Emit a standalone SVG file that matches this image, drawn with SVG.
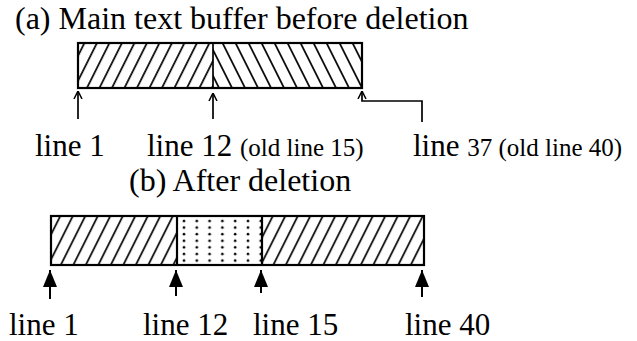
<svg xmlns="http://www.w3.org/2000/svg" width="637" height="341" viewBox="0 0 637 341">
<style>
.t{font-family:"Liberation Serif","Times New Roman",serif;fill:#000}
.big{font-size:31px}
.ttl{font-size:32px}
.sm{font-size:25px}
.box{fill:none;stroke:#000;stroke-width:2.2}
.ln{stroke:#000;stroke-width:2;fill:none}
.thin{stroke:#000;stroke-width:1.7;fill:none}
</style>
<defs>
<pattern id="hf" patternUnits="userSpaceOnUse" width="12.5" height="20" patternTransform="skewX(-26.6)">
<line x1="6" y1="-2" x2="6" y2="22" stroke="#000" stroke-width="1.9"/>
</pattern>
<pattern id="hb" patternUnits="userSpaceOnUse" width="13" height="20" patternTransform="skewX(26.6)">
<line x1="6" y1="-2" x2="6" y2="22" stroke="#000" stroke-width="1.9"/>
</pattern>
<pattern id="dots" patternUnits="userSpaceOnUse" x="178" y="218" width="12.8" height="6.6">
<circle cx="6" cy="3" r="1.3" fill="#000"/>
</pattern>
<marker id="open" viewBox="0 0 8 10" refX="8" refY="5" markerWidth="8" markerHeight="10" markerUnits="userSpaceOnUse" orient="auto">
<path d="M0,1 L8,5 L0,9" fill="none" stroke="#000" stroke-width="1.5"/>
</marker>
<marker id="fill" viewBox="0 0 17 14" refX="17" refY="7" markerWidth="17" markerHeight="14" markerUnits="userSpaceOnUse" orient="auto">
<path d="M0,0 L17,7 L0,14 Z" fill="#000"/>
</marker>
</defs>

<g id="title-a"><text class="t ttl" x="15" y="29">(a) Main text buffer before deletion</text></g>

<g id="buffer-before">
<rect x="78" y="43" width="135" height="45" fill="url(#hf)"/>
<rect x="213" y="43" width="149" height="45" fill="url(#hb)"/>
<rect class="box" x="78" y="43" width="284" height="45"/>
<line class="thin" x1="213" y1="43" x2="213" y2="88"/>
</g>

<g id="title-b"><text class="t ttl" x="129" y="191">(b) After deletion</text></g>

<g id="buffer-after">
<rect x="51" y="216" width="126" height="49" fill="url(#hf)"/>
<rect x="177" y="216" width="85" height="49" fill="url(#dots)"/>
<rect x="262" y="216" width="162" height="49" fill="url(#hf)"/>
<rect class="box" x="51" y="216" width="373" height="49"/>
<line class="box" x1="177" y1="216" x2="177" y2="265"/>
<line class="box" x1="262" y1="216" x2="262" y2="265"/>
</g>

<g id="connectors">
<line class="thin" x1="78" y1="119" x2="78" y2="91" marker-end="url(#open)"/>
<line class="thin" x1="213" y1="119" x2="213" y2="93" marker-end="url(#open)"/>
<path class="thin" d="M422,122 L422,101 L362,101 L362,91" marker-end="url(#open)"/>
<line class="ln" x1="50" y1="299" x2="50" y2="270" marker-end="url(#fill)"/>
<line class="ln" x1="176" y1="296" x2="176" y2="270" marker-end="url(#fill)"/>
<line class="ln" x1="261" y1="293" x2="261" y2="270" marker-end="url(#fill)"/>
<line class="ln" x1="422" y1="297" x2="422" y2="270" marker-end="url(#fill)"/>
</g>

<g id="labels-a">
<text class="t big" x="35" y="156">line 1</text>
<text class="t" x="147" y="156"><tspan class="big">line 12 </tspan><tspan class="sm">(old line 15)</tspan></text>
<text class="t" x="413" y="156"><tspan class="big">line </tspan><tspan class="sm">37 (old line 40)</tspan></text>
</g>

<g id="labels-b">
<text class="t big" x="9" y="335">line 1</text>
<text class="t big" x="143" y="335">line 12</text>
<text class="t big" x="253" y="335">line 15</text>
<text class="t big" x="405" y="335">line 40</text>
</g>
</svg>
